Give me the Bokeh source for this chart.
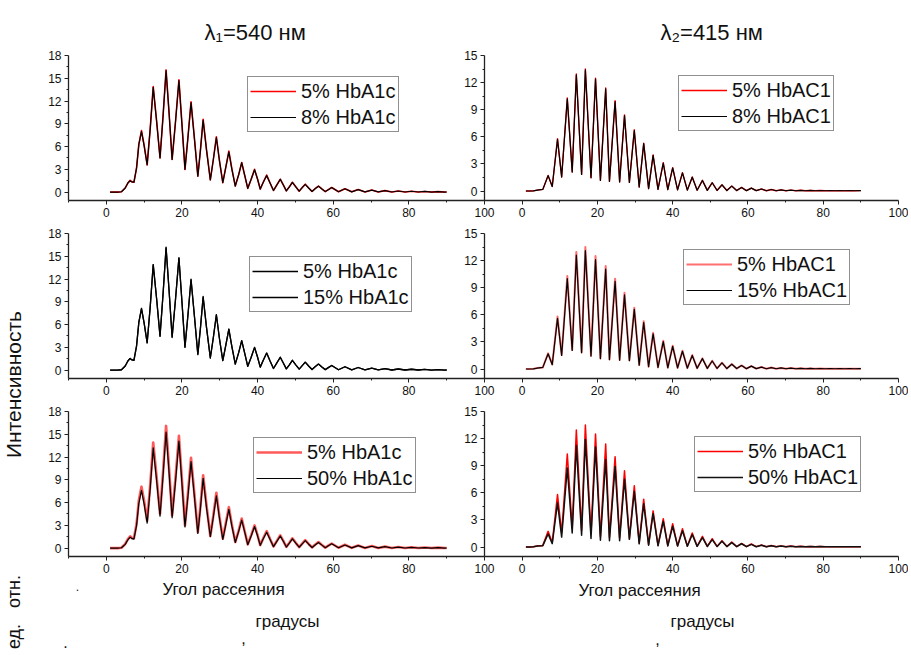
import math
from bokeh.plotting import figure
from bokeh.layouts import row, column
from bokeh.models import Range1d, FixedTicker, Legend, LegendItem
from bokeh.embed import file_html
from bokeh.resources import INLINE
from bokeh.core.properties import value

FONT = "Liberation Sans"

# ---------------- data ----------------
# scattering angle grid, lambda1 = 540 nm panels
x_540 = [1, 2, 3, 4, 5, 5.7, 6.3, 6.8, 7.3, 8.0, 8.6,
         9.3, 10.0, 10.8, 11.6, 12.4, 13.3, 14.2, 15.0, 15.8, 16.6, 17.4, 18.3,
         19.2, 20.0, 20.8, 21.6, 22.4, 23.3, 24.2, 24.9, 25.6, 26.5, 27.5, 28.3,
         29.1, 29.9, 30.8, 31.6, 32.4, 33.2, 34.1, 35.0, 35.8, 36.6, 37.4, 38.3,
         39.2, 40.0, 40.7, 41.5, 42.4, 43.3, 44.2, 45.1, 46.0, 46.8, 47.6, 48.4,
         49.2, 50.1, 51.0, 51.8, 52.6, 53.5, 54.4, 55.2, 56.1, 57.0, 57.9, 58.7,
         59.6, 61.4, 63.1, 64.9, 66.6, 68.4, 70.2, 71.9, 73.7, 75.5,
         77.2, 79.0, 80.7, 82.5, 84.2, 86.0, 87.7, 89.5, 90]

hb5_540 = [0, 0, 0, 0.05, 0.55, 1.2, 1.55, 1.35, 1.3, 3.2, 6.3,
           8.1, 6.2, 3.6, 8.3, 13.9, 9.4, 4.5, 10.0, 16.1, 10.4, 4.3, 9.3,
           14.8, 9.0, 3.0, 7.3, 11.9, 7.1, 2.1, 5.6, 9.6, 5.6, 1.6, 4.3,
           7.3, 4.2, 1.25, 3.3, 5.4, 3.1, 0.8, 2.3, 3.9, 2.2, 0.5, 1.7,
           3.0, 1.7, 0.4, 1.3, 2.25, 1.2, 0.22, 0.95, 1.7, 0.95, 0.17, 0.7,
           1.3, 0.7, 0.13, 0.6, 1.05, 0.55, 0.09, 0.45, 0.8, 0.42, 0.07, 0.33,
           0.61, 0.05, 0.45, 0.04, 0.35, 0.03, 0.27, 0.03, 0.2, 0.02,
           0.15, 0.02, 0.12, 0.02, 0.09, 0.01, 0.07, 0.01, 0.02]

hb8_540 = [0, 0, 0, 0.05, 0.55, 1.2, 1.5, 1.35, 1.3, 3.2, 6.3,
           8.0, 6.1, 3.6, 8.3, 13.8, 9.3, 4.5, 10.0, 16.0, 10.4, 4.3, 9.3,
           14.7, 8.9, 3.0, 7.3, 11.8, 7.0, 2.1, 5.6, 9.5, 5.5, 1.6, 4.3,
           7.2, 4.2, 1.25, 3.3, 5.3, 3.0, 0.8, 2.3, 3.9, 2.2, 0.5, 1.7,
           2.95, 1.7, 0.4, 1.3, 2.2, 1.2, 0.22, 0.95, 1.7, 0.95, 0.17, 0.7,
           1.28, 0.7, 0.13, 0.6, 1.03, 0.55, 0.09, 0.45, 0.79, 0.42, 0.07, 0.33,
           0.6, 0.05, 0.44, 0.04, 0.34, 0.03, 0.26, 0.03, 0.2, 0.02,
           0.15, 0.02, 0.12, 0.02, 0.09, 0.01, 0.07, 0.01, 0.02]

hb15_540 = [0, 0, 0, 0.05, 0.55, 1.2, 1.55, 1.35, 1.3, 3.2, 6.3,
            8.15, 6.2, 3.6, 8.3, 13.9, 9.4, 4.45, 10.0, 16.2, 10.5, 4.4, 9.4,
            14.8, 9.0, 3.05, 7.4, 12.0, 7.1, 2.05, 5.6, 9.7, 5.6, 1.6, 4.3,
            7.3, 4.2, 1.25, 3.3, 5.4, 3.1, 0.8, 2.3, 3.9, 2.2, 0.5, 1.7,
            3.0, 1.7, 0.4, 1.3, 2.25, 1.2, 0.22, 0.95, 1.7, 0.95, 0.17, 0.7,
            1.3, 0.7, 0.13, 0.6, 1.05, 0.55, 0.09, 0.45, 0.8, 0.42, 0.07, 0.33,
            0.61, 0.05, 0.45, 0.04, 0.35, 0.03, 0.27, 0.03, 0.2, 0.02,
            0.15, 0.02, 0.12, 0.02, 0.09, 0.01, 0.07, 0.01, 0.02]

hb50_540 = [0, 0, 0, 0.05, 0.5, 1.1, 1.45, 1.25, 1.2, 3.0, 5.9,
            7.6, 5.8, 3.3, 7.8, 13.2, 8.9, 4.2, 9.5, 15.3, 9.9, 4.0, 8.8,
            14.1, 8.5, 2.8, 6.9, 11.4, 6.7, 1.95, 5.3, 9.2, 5.3, 1.5, 4.1,
            6.9, 4.0, 1.15, 3.1, 5.1, 2.9, 0.75, 2.2, 3.7, 2.1, 0.45, 1.6,
            2.85, 1.6, 0.37, 1.25, 2.1, 1.15, 0.2, 0.9, 1.6, 0.9, 0.15, 0.66,
            1.23, 0.66, 0.12, 0.56, 0.99, 0.52, 0.08, 0.42, 0.75, 0.4, 0.06, 0.31,
            0.57, 0.05, 0.42, 0.04, 0.33, 0.03, 0.25, 0.03, 0.19, 0.02,
            0.14, 0.02, 0.11, 0.02, 0.08, 0.01, 0.06, 0.01, 0.02]

# scattering angle grid, lambda2 = 415 nm panels
x_415 = [1, 2, 3, 4, 5.5,
         6.9, 8.0, 9.4, 10.5, 12.0, 13.3, 14.4, 15.8, 16.8, 18.3, 19.5, 20.8,
         22.2, 23.2, 24.7, 25.9, 27.2, 28.5, 29.8, 31.1, 32.3, 33.6, 34.8, 36.1,
         37.5, 38.7, 40.0, 41.3, 42.6, 43.9, 45.2, 46.5, 47.9, 49.2, 50.5, 51.8,
         53.1, 54.4, 55.7, 57.0, 58.3, 59.6, 60.9, 62.2, 63.6, 64.9, 66.2, 67.5,
         68.8, 70.1, 71.4, 72.7, 74.0, 75.3, 76.6, 77.9, 79.2, 80.5, 81.8, 83.1,
         84.4, 85.7, 87.0, 88.3, 89.6, 90]

hb5_415 = [0, 0, 0.02, 0.1, 0.18,
           1.73, 0.5, 5.8, 1.55, 10.3, 2.1, 12.96, 1.84, 13.5, 1.47, 12.5, 1.18,
           11.4, 1.07, 10.0, 1.0, 8.43, 0.96, 6.78, 0.44, 5.3, 0.26, 4.0, 0.18,
           3.13, 0.15, 2.58, 0.12, 2.03, 0.1, 1.55, 0.08, 1.18, 0.07, 0.92, 0.06,
           0.7, 0.05, 0.55, 0.05, 0.4, 0.04, 0.33, 0.04, 0.22, 0.03, 0.17, 0.03,
           0.12, 0.03, 0.1, 0.03, 0.08, 0.03, 0.06, 0.03, 0.05, 0.03, 0.04, 0.03,
           0.04, 0.03, 0.04, 0.03, 0.04, 0.04]

hb8_415 = [0, 0, 0.02, 0.1, 0.18,
           1.7, 0.5, 5.7, 1.55, 10.2, 2.1, 12.85, 1.84, 13.4, 1.47, 12.4, 1.18,
           11.3, 1.07, 9.9, 1.0, 8.35, 0.96, 6.7, 0.44, 5.25, 0.26, 3.95, 0.18,
           3.1, 0.15, 2.55, 0.12, 2.0, 0.1, 1.53, 0.08, 1.17, 0.07, 0.91, 0.06,
           0.69, 0.05, 0.54, 0.05, 0.4, 0.04, 0.32, 0.04, 0.22, 0.03, 0.17, 0.03,
           0.12, 0.03, 0.1, 0.03, 0.08, 0.03, 0.06, 0.03, 0.05, 0.03, 0.04, 0.03,
           0.04, 0.03, 0.04, 0.03, 0.04, 0.04]

hb15_415 = [0, 0, 0.02, 0.1, 0.18,
            1.68, 0.48, 5.6, 1.5, 10.0, 2.05, 12.6, 1.8, 13.1, 1.43, 12.1, 1.15,
            11.05, 1.04, 9.7, 0.97, 8.2, 0.93, 6.6, 0.43, 5.15, 0.25, 3.9, 0.17,
            3.04, 0.14, 2.5, 0.12, 1.97, 0.1, 1.5, 0.08, 1.15, 0.07, 0.89, 0.06,
            0.68, 0.05, 0.53, 0.05, 0.39, 0.04, 0.32, 0.04, 0.21, 0.03, 0.16, 0.03,
            0.12, 0.03, 0.1, 0.03, 0.08, 0.03, 0.06, 0.03, 0.05, 0.03, 0.04, 0.03,
            0.04, 0.03, 0.04, 0.03, 0.04, 0.04]

hb50_415 = [0, 0, 0.02, 0.1, 0.15,
            1.45, 0.37, 4.9, 1.1, 8.75, 1.55, 11.25, 1.3, 11.9, 0.95, 11.07, 0.75,
            9.7, 0.7, 8.9, 0.7, 7.5, 0.85, 6.15, 0.35, 4.8, 0.2, 3.7, 0.14,
            2.85, 0.12, 2.3, 0.1, 1.8, 0.08, 1.38, 0.07, 1.05, 0.06, 0.82, 0.05,
            0.63, 0.05, 0.49, 0.04, 0.36, 0.04, 0.29, 0.03, 0.2, 0.03, 0.15, 0.03,
            0.11, 0.03, 0.09, 0.03, 0.07, 0.03, 0.05, 0.03, 0.05, 0.03, 0.04, 0.03,
            0.04, 0.03, 0.04, 0.03, 0.04, 0.04]

x_ticks = [0, 20, 40, 60, 80, 100]
x_minor = [-10, 10, 30, 50, 70, 90]
y_ticks_540 = [0, 3, 6, 9, 12, 15, 18]
y_ticks_415 = [0, 3, 6, 9, 12, 15]

title_540 = "λ₁=540  нм"
title_415 = "λ₂=415  нм"

# ---------------- panels ----------------
FRAME_H = 145
LEFT_FW, RIGHT_FW = 416, 414


def style_axes(p, yticks, yminor):
    p.xaxis.ticker = FixedTicker(ticks=x_ticks, minor_ticks=x_minor)
    p.yaxis.ticker = FixedTicker(ticks=yticks, minor_ticks=yminor)
    for ax in (p.xaxis[0], p.yaxis[0]):
        ax.axis_line_color = "#222222"
        ax.axis_line_width = 1.3
        ax.major_tick_line_color = "#222222"
        ax.minor_tick_line_color = "#222222"
        ax.major_tick_out = 4
        ax.major_tick_in = 0
        ax.minor_tick_out = 2
        ax.minor_tick_in = 0
        ax.major_label_text_font = FONT
        ax.major_label_text_font_size = "12px"
        ax.major_label_text_color = "#111111"
        ax.major_label_standoff = 3
    p.xgrid.visible = False
    p.ygrid.visible = False
    p.outline_line_color = None


def make_panel(left, top_row, series, loc, title=None, title_offset=0):
    if left:
        ymax, ylo, yt = 18, -1.1, y_ticks_540
        ymin = [1.5, 4.5, 7.5, 10.5, 13.5, 16.5]
        xs = x_540
        fw, bl, br = LEFT_FW, 32, 12
    else:
        ymax, ylo, yt = 15, -1.05, y_ticks_415
        ymin = [1.5, 4.5, 7.5, 10.5, 13.5]
        xs = x_415
        fw, bl, br = RIGHT_FW, 30, 10
    p = figure(frame_width=fw, frame_height=FRAME_H,
               x_range=Range1d(-10, 100), y_range=Range1d(ylo, ymax),
               output_backend="svg", toolbar_location=None,
               min_border_left=bl, min_border_right=br,
               min_border_top=55 if top_row else 10, min_border_bottom=23)
    if not left:
        p.margin = (0, 0, 0, -42)
        p.background_fill_alpha = 0
        p.border_fill_alpha = 0
    style_axes(p, yt, ymin)
    items = []
    for lab, ys, col, lw in series:
        r = p.line(xs, ys, line_color=col, line_width=lw, line_join="round")
        items.append(LegendItem(label=lab, renderers=[r]))
    leg = Legend(items=items, location=loc, padding=2, spacing=2, margin=0,
                 glyph_width=46, glyph_height=24, label_height=24,
                 label_standoff=5, label_text_font=FONT,
                 label_text_font_size="20px", label_text_color="#111111",
                 border_line_color="#222222", border_line_width=1,
                 background_fill_color="white", background_fill_alpha=1)
    p.add_layout(leg, "center")
    if title:
        p.title.text = title
        p.title.align = "left"
        p.title.offset = title_offset
        p.title.standoff = 21
        p.title.text_font = FONT
        p.title.text_font_size = "22px"
        p.title.text_font_style = "normal"
        p.title.text_color = "#111111"
    return p


RED = "#ff0000"
L1 = make_panel(True, True, [("5% HbA1c", hb5_540, RED, 1.6),
                             ("8% HbA1c", hb8_540, "#000000", 1.2)],
                (179, 68), title_540, 136)
R1 = make_panel(False, True, [("5% HbAC1", hb5_415, RED, 1.4),
                              ("8% HbAC1", hb8_415, "#000000", 1.2)],
                (194, 69), title_415, 176)
L2 = make_panel(True, False, [("5% HbA1c", hb5_540, "#000000", 1.3),
                              ("15% HbA1c", hb15_540, "#000000", 1.3)],
                (181, 66))
R2 = make_panel(False, False, [("5% HbAC1", hb5_415, "#ff6f6f", 2.0),
                               ("15% HbAC1", hb15_415, "#000000", 1.2)],
                (199, 73))
L3 = make_panel(True, False, [("5% HbA1c", hb5_540, "#ff5a5a", 2.6),
                              ("50% HbA1c", hb50_540, "#000000", 1.2)],
                (185, 63))
R3 = make_panel(False, False, [("5% HbAC1", hb5_415, RED, 1.5),
                               ("50% HbAC1", hb50_415, "#111111", 1.5)],
                (210, 64))

# ---------------- free text strips ----------------
def strip(w, h):
    s = figure(width=w, height=h, x_range=Range1d(0, w), y_range=Range1d(h, 0),
               x_axis_type=None, y_axis_type=None, output_backend="svg",
               toolbar_location=None, min_border=0)
    s.grid.visible = False
    s.outline_line_color = None
    return s


ystrip = strip(36, 653)
ystrip.text(x=[13], y=[384], text=["Интенсивность"],
            angle=math.pi / 2, text_font=value(FONT), text_font_size="21px",
            text_align="center", text_baseline="middle", text_color="#111111")
ystrip.text(x=[13, 13], y=[591, 636], text=["отн.", "ед."],
            angle=math.pi / 2, text_font=value(FONT), text_font_size="18px",
            text_align="center", text_baseline="middle", text_color="#111111")

bottom = strip(872, 74)
bottom.text(x=[187, 603], y=[10, 11], text=["Угол рассеяния", "Угол рассеяния"],
            text_font=value(FONT), text_font_size="17px",
            text_align="center", text_baseline="middle", text_color="#111111")
bottom.text(x=[251, 666], y=[42, 42], text=["градусы", "градусы"],
            text_font=value(FONT), text_font_size="17px",
            text_align="center", text_baseline="middle", text_color="#111111")
bottom.text(x=[207, 621, 29], y=[58, 59, 62], text=[",", ",", "."],
            text_font=value(FONT), text_font_size="16px",
            text_align="center", text_baseline="alphabetic", text_color="#111111")
bottom.text(x=[41], y=[7], text=["."],
            text_font=value(FONT), text_font_size="12px",
            text_align="center", text_baseline="middle", text_color="#111111")

main = column(row(L1, R1), row(L2, R2), row(L3, R3), bottom)
page = row(ystrip, main)

open("out.html", "w").write(file_html(page, INLINE))
